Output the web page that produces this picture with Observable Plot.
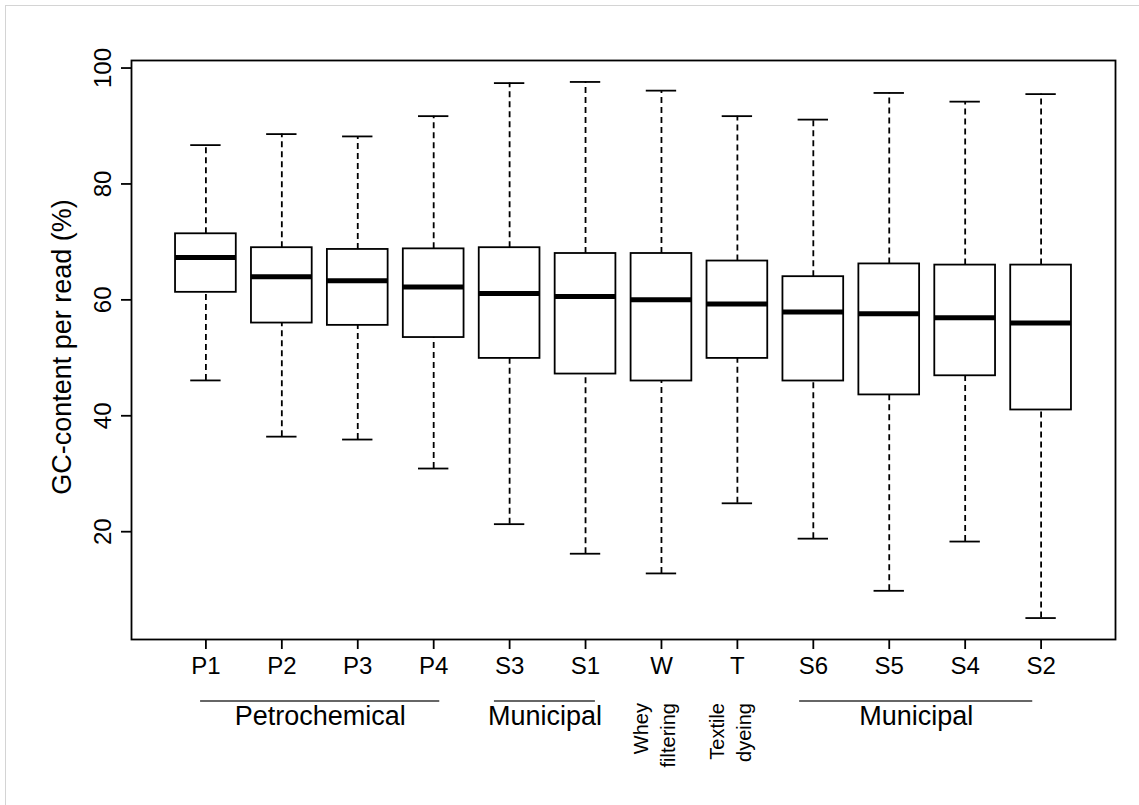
<!DOCTYPE html>
<html><head><meta charset="utf-8">
<script src="https://cdn.jsdelivr.net/npm/d3@7"></script>
<script src="https://cdn.jsdelivr.net/npm/@observablehq/plot@0.6"></script>
<style>
body{margin:0;background:#fff;}
#chart{position:relative;width:1139px;height:805px;}
#edge{position:absolute;left:5px;top:5px;right:0;bottom:0;border-left:1px solid #d4d4d4;border-top:1px solid #d4d4d4;pointer-events:none;}
</style>
</head><body><div id="chart"><div id="edge"></div></div>
<script>
const categories = ["P1","P2","P3","P4","S3","S1","W","T","S6","S5","S4","S2"];
const whiskerLow  = [46.1, 36.4, 35.9, 30.9, 21.3, 16.2, 12.8, 24.9, 18.8,  9.8, 18.3,  5.1];
const q1          = [61.3, 56.0, 55.6, 53.5, 49.9, 47.2, 46.0, 49.9, 46.0, 43.6, 46.9, 41.0];
const median      = [67.3, 64.0, 63.3, 62.2, 61.1, 60.6, 60.0, 59.3, 57.9, 57.6, 56.9, 56.0];
const q3          = [71.4, 69.0, 68.7, 68.8, 69.0, 68.0, 68.0, 66.7, 64.0, 66.2, 66.0, 66.0];
const whiskerHigh = [86.7, 88.6, 88.2, 91.7, 97.4, 97.6, 96.1, 91.7, 91.1, 95.7, 94.2, 95.5];

const yTicks = [20, 40, 60, 80, 100];
const yTitle = "GC-content per read (%)";

const groupNames = ["Petrochemical", "Municipal", "Municipal"];
const groupFrom  = [0.93, 4.80, 8.82];
const groupTo    = [4.08, 6.13, 11.89];

const noteCats   = ["W", "T"];
const noteLabels = ["Whey\nfiltering", "Textile\ndyeing"];

const n = categories.length;
const rows = categories.map((c, i) => ({cat: c, pos: i + 1, lo: whiskerLow[i], q1: q1[i], med: median[i], q3: q3[i], hi: whiskerHigh[i]}));
const lo = d3.min(whiskerLow), hi = d3.max(whiskerHigh);
const yDomain = [lo - 0.04 * (hi - lo), hi + 0.04 * (hi - lo)];
const xDomain = [0.5 - 0.04 * n, n + 0.5 + 0.04 * n];
const boxHalf = 0.4, capHalf = 0.2;
const groups = groupNames.map((g, i) => ({name: g, x1: groupFrom[i], x2: groupTo[i]}));
const notes = noteCats.map((c, i) => ({pos: categories.indexOf(c) + 1, text: noteLabels[i]}));

const whisker = {stroke: "#000", strokeWidth: 1.8, strokeDasharray: "6,4"};
const plot = Plot.plot({
  width: 1139, height: 805,
  marginLeft: 131, marginRight: 24, marginTop: 60, marginBottom: 166,
  x: {domain: xDomain, axis: null},
  y: {domain: yDomain, axis: null},
  style: {fontFamily: "'Liberation Sans', Arial, sans-serif", color: "#000", background: "transparent", overflow: "visible"},
  marks: [
    Plot.ruleX(rows, {x: "pos", y1: "q3", y2: "hi", ...whisker}),
    Plot.ruleX(rows, {x: "pos", y1: "lo", y2: "q1", ...whisker}),
    Plot.ruleY(rows, {y: "hi", x1: d => d.pos - capHalf, x2: d => d.pos + capHalf, stroke: "#000", strokeWidth: 1.8}),
    Plot.ruleY(rows, {y: "lo", x1: d => d.pos - capHalf, x2: d => d.pos + capHalf, stroke: "#000", strokeWidth: 1.8}),
    Plot.rect(rows, {x1: d => d.pos - boxHalf, x2: d => d.pos + boxHalf, y1: "q1", y2: "q3", fill: "#fff", stroke: "#000", strokeWidth: 1.8}),
    Plot.ruleY(rows, {y: "med", x1: d => d.pos - boxHalf, x2: d => d.pos + boxHalf, stroke: "#000", strokeWidth: 5}),
    Plot.frame({stroke: "#000", strokeWidth: 1.8}),
    Plot.axisY(yTicks, {anchor: "left", tickSize: 10, tickFormat: () => "", label: null, strokeWidth: 1.8}),
    Plot.text(yTicks, {y: d => d, frameAnchor: "left", dx: -28, rotate: -90, textAnchor: "middle", text: d => String(d), fontSize: 24}),
    Plot.text([yTitle], {frameAnchor: "left", dx: -69, dy: -3, rotate: -90, textAnchor: "middle", text: d => d, fontSize: 27}),
    Plot.axisX(rows.map(r => r.pos), {anchor: "bottom", tickSize: 10, tickFormat: () => "", label: null, strokeWidth: 1.8}),
    Plot.text(rows, {x: "pos", frameAnchor: "bottom", dy: 34, text: "cat", fontSize: 24}),
    Plot.ruleY(groups, {x1: "x1", x2: "x2", y: () => yDomain[0], dy: 61.5, stroke: "#333", strokeWidth: 1.3}),
    Plot.text(groups, {x: d => (d.x1 + d.x2) / 2, frameAnchor: "bottom", dy: 85, text: "name", fontSize: 27}),
    Plot.text(notes, {x: "pos", frameAnchor: "bottom", dy: 63.5, dx: -9, rotate: -90, textAnchor: "end", lineAnchor: "middle", lineHeight: 1.35, text: "text", fontSize: 20})
  ]
});
document.getElementById("chart").prepend(plot);
</script>
</body></html>
